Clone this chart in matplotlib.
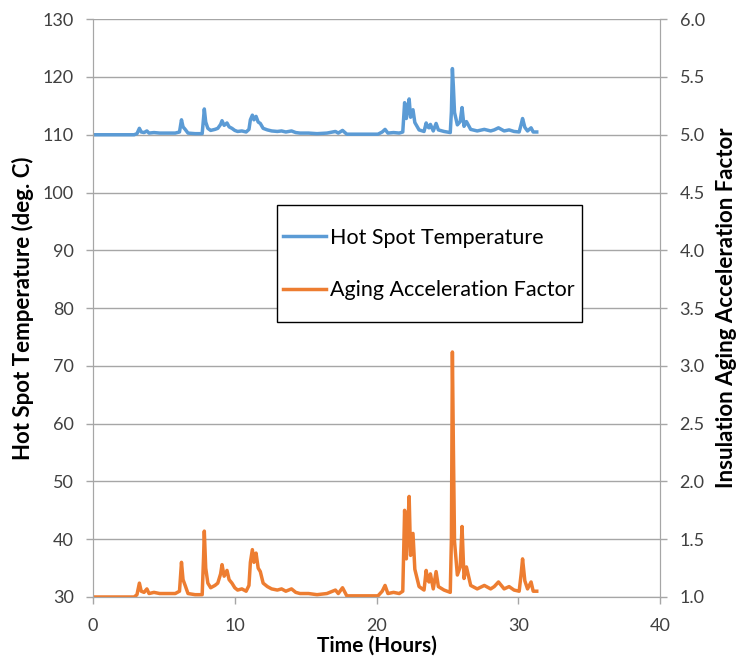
import numpy as np
import matplotlib
matplotlib.use("Agg")
import matplotlib.pyplot as plt
from matplotlib.patches import Rectangle

plt.rcParams['font.family'] = ['Lato', 'DejaVu Sans']

# time in hours
hours = [0.0, 1.0, 2.0, 2.9, 3.1, 3.27, 3.4, 3.6, 3.8, 3.95,
         4.3, 4.7, 5.2, 5.8, 6.1, 6.24, 6.35, 6.5, 6.7, 7.2,
         7.7, 7.8, 7.85, 7.95, 8.1, 8.3, 8.6, 8.8, 9.0, 9.1,
         9.25, 9.45, 9.6, 9.8, 10.0, 10.2, 10.5, 10.8, 11.0, 11.1,
         11.24, 11.35, 11.5, 11.65, 11.8, 12.0, 12.3, 12.6, 13.0, 13.3,
         13.6, 14.0, 14.3, 14.6, 15.2, 15.8, 16.5, 17.1, 17.3, 17.6,
         17.9, 18.5, 19.2, 20.1, 20.4, 20.6, 20.8, 21.2, 21.6, 21.85,
         21.98, 22.1, 22.2, 22.3, 22.4, 22.57, 22.7, 23.0, 23.35, 23.5,
         23.6, 23.7, 23.8, 24.0, 24.2, 24.36, 24.76, 25.2, 25.28, 25.35,
         25.42, 25.5, 25.7, 25.9, 26.03, 26.17, 26.34, 26.64, 27.1, 27.6,
         28.05, 28.3, 28.6, 29.0, 29.35, 29.7, 30.06, 30.2, 30.3, 30.46,
         30.65, 30.9, 31.05, 31.3]

# hot spot temperature (deg. C)
hot_spot = [110.0, 110.0, 110.0, 110.0, 110.19, 111.11, 110.48, 110.38, 110.66, 110.29,
            110.38, 110.29, 110.29, 110.29, 110.48, 112.59, 111.37, 110.93, 110.29, 110.19,
            110.19, 112.96, 114.46, 112.2, 111.11, 110.75, 110.93, 111.11, 111.79, 112.43,
            111.63, 112.04, 111.37, 111.11, 110.75, 110.57, 110.66, 110.48, 110.93, 112.59,
            113.39, 112.59, 113.18, 112.2, 111.96, 111.11, 110.84, 110.66, 110.57, 110.66,
            110.48, 110.66, 110.38, 110.29, 110.29, 110.19, 110.29, 110.57, 110.29, 110.75,
            110.1, 110.1, 110.1, 110.1, 110.48, 110.93, 110.29, 110.38, 110.29, 110.48,
            115.55, 112.81, 114.65, 116.2, 113.03, 114.33, 112.12, 110.84, 110.57, 112.04,
            111.37, 111.2, 111.79, 110.66, 111.96, 110.84, 110.57, 110.38, 114.0, 121.45,
            118.3, 113.87, 111.71, 112.28, 114.71, 111.46, 112.28, 110.93, 110.66, 110.93,
            110.66, 110.84, 111.2, 110.66, 110.84, 110.57, 110.48, 111.79, 112.81, 111.29,
            110.66, 111.2, 110.48, 110.48]

# aging acceleration factor
aging = [1.0, 1.0, 1.0, 1.0, 1.02, 1.12, 1.05, 1.04, 1.07, 1.03,
         1.04, 1.03, 1.03, 1.03, 1.05, 1.30, 1.15, 1.10, 1.03, 1.02,
         1.02, 1.35, 1.57, 1.25, 1.12, 1.08, 1.10, 1.12, 1.20, 1.28,
         1.18, 1.23, 1.15, 1.12, 1.08, 1.06, 1.07, 1.05, 1.10, 1.30,
         1.41, 1.30, 1.38, 1.25, 1.22, 1.12, 1.09, 1.07, 1.06, 1.07,
         1.05, 1.07, 1.04, 1.03, 1.03, 1.02, 1.03, 1.06, 1.03, 1.08,
         1.01, 1.01, 1.01, 1.01, 1.05, 1.10, 1.03, 1.04, 1.03, 1.05,
         1.75, 1.33, 1.60, 1.87, 1.36, 1.55, 1.24, 1.09, 1.06, 1.23,
         1.15, 1.13, 1.20, 1.07, 1.22, 1.09, 1.06, 1.04, 1.50, 3.12,
         2.30, 1.48, 1.19, 1.26, 1.61, 1.16, 1.26, 1.10, 1.07, 1.10,
         1.07, 1.09, 1.13, 1.07, 1.09, 1.06, 1.05, 1.20, 1.33, 1.14,
         1.07, 1.13, 1.05, 1.05]

blue = '#5B9BD5'
orange = '#ED7D31'
grey = '#a6a6a6'

fig = plt.figure(figsize=(7.4, 6.62), dpi=100)
ax = fig.add_axes([0.1257, 0.0982, 0.7663, 0.8728])
ax2 = ax.twinx()

l1, = ax.plot(hours, hot_spot, color=blue, lw=2.5, label='Hot Spot Temperature')
l2, = ax2.plot(hours, aging, color=orange, lw=2.5, label='Aging Acceleration Factor')

ax.set_xlim(0, 40)
ax.set_ylim(30, 130)
ax2.set_ylim(1.0, 6.0)
ax.set_xticks(np.arange(0, 41, 10))
ax.set_yticks(np.arange(30, 131, 10))
ax2.set_yticks(np.arange(1.0, 6.01, 0.5))
ax2.set_yticklabels([f'{v:.1f}' for v in np.arange(1.0, 6.01, 0.5)])

ax.grid(axis='y', color=grey, lw=1)
ax.set_axisbelow(True)

for a in (ax, ax2):
    for side in a.spines:
        a.spines[side].set_color(grey)
    a.spines['top'].set_visible(False)
    a.tick_params(colors=grey, labelcolor='#404040', labelsize=13, length=5, width=1)
ax.tick_params(axis='y', pad=9)
ax.tick_params(axis='x', pad=10)
ax2.tick_params(axis='y', pad=9)

ax.set_xlabel('Time (Hours)', fontsize=15, fontweight='bold', labelpad=1)
ax.set_ylabel('Hot Spot Temperature (deg. C)', fontsize=16, fontweight='bold', labelpad=6)
ax2.set_ylabel('Insulation Aging Acceleration Factor', fontsize=16, fontweight='bold', labelpad=8)

# legend box drawn separately so the padding matches the original
fig.patches.append(Rectangle((0.3743, 0.5136), 0.4122, 0.1767, transform=fig.transFigure,
                             facecolor='white', edgecolor='black', lw=1.0, zorder=5))
leg = fig.legend(handles=[l1, l2], loc='center left', bbox_to_anchor=(0.3824, 0.601),
                 bbox_transform=fig.transFigure, fontsize=15.5, frameon=False,
                 borderpad=0, labelspacing=1.5, handlelength=2.0,
                 handletextpad=0.2, borderaxespad=0)
leg.set_zorder(6)

fig.savefig('out.png', dpi=100)
